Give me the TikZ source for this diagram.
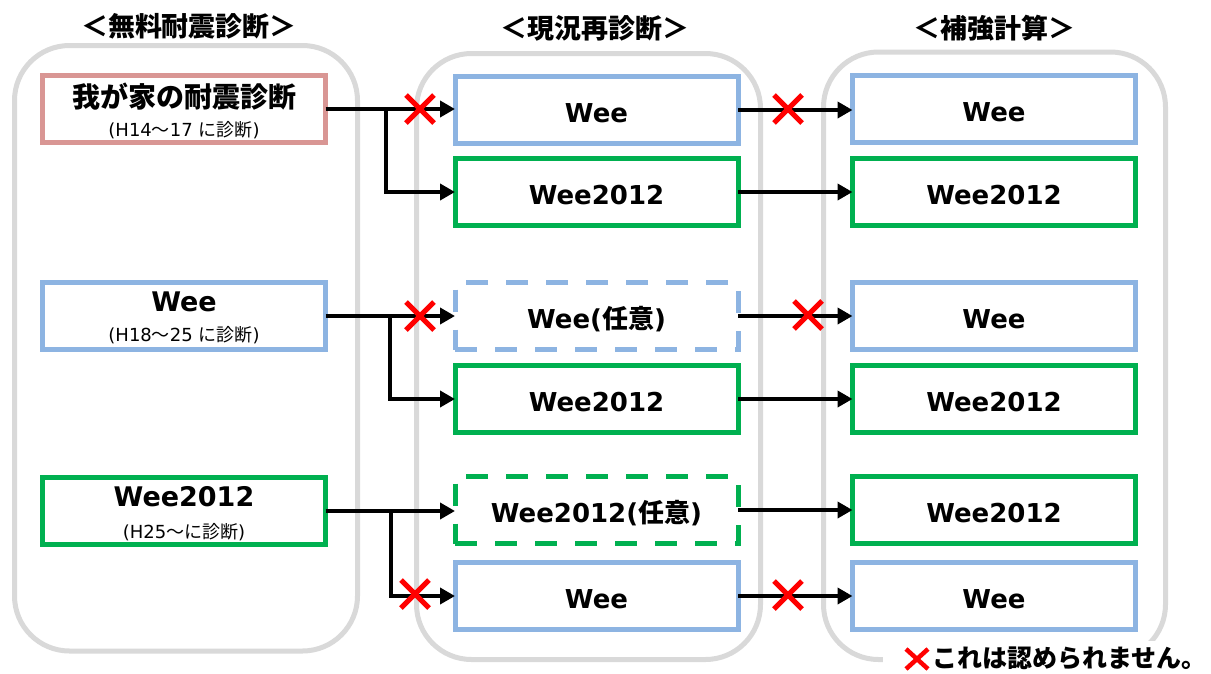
\documentclass[tikz,border=0pt]{standalone}
\usepackage{fontspec}
\setmainfont{DejaVu Sans}
\newfontfamily\jp{Noto Sans CJK JP}
\usetikzlibrary{arrows.meta}
\definecolor{panelgray}{HTML}{D9D9D9}
\definecolor{pinkc}{HTML}{D99694}
\definecolor{bluec}{HTML}{8DB4E2}
\definecolor{greenc}{HTML}{00B050}
\begin{document}
\begin{tikzpicture}[x=1pt,y=-1pt,
 panel/.style={draw=panelgray, line width=5pt, rounded corners=55pt},
 box/.style={draw, line width=5pt, minimum width=283pt, minimum height=67pt, inner sep=0pt, outer sep=0pt, fill=white, text height=25pt, text depth=0pt, font=\bfseries\fontsize{26}{30}\selectfont},
 dbox/.style={box, dash pattern=on 22pt off 18pt},
 arr/.style={line width=4pt, -{Triangle[length=15pt,width=16pt]}},
 nox/.style={draw=red, line width=5pt},
 hdr/.style={font=\jp\bfseries\fontsize{27}{30}\selectfont},
 maintxt/.style={font=\bfseries\fontsize{27}{32}\selectfont, inner sep=0pt},
 subtxt/.style={font=\fontsize{18}{22}\selectfont, inner sep=0pt}
]
\useasboundingbox (0,0) rectangle (1211,673);
\fill[white] (0,0) rectangle (1211,673);

% panels
\draw[panel] (14.5,45.5) rectangle (357.5,651);
\draw[panel] (416.5,53.5) rectangle (760.5,659.5);
\draw[panel] (823.5,52) rectangle (1165.5,659.5);

% headers
\node[hdr] (h1) at (189,26) {＜無料耐震診断＞};
\node[hdr] (h2) at (595,28) {＜現況再診断＞};
\node[hdr] (h3) at (994,28) {＜補強計算＞};

% left boxes
\node[box, draw=pinkc] (l1) at (184,109) {};
\node[maintxt, font=\jp\bfseries\fontsize{28}{32}\selectfont] (l1a) at (184,97) {我が家の耐震診断};
\node[subtxt] (l1b) at (184,130) {(H14{\jp ～}17 {\jp に診断})};

\node[box, draw=bluec] (l2) at (184,316) {};
\node[maintxt] (l2a) at (184,302) {Wee};
\node[subtxt] (l2b) at (184,335) {(H18{\jp ～}25 {\jp に診断})};

\node[box, draw=greenc] (l3) at (184,511) {};
\node[maintxt] (l3a) at (184,497) {Wee2012};
\node[subtxt] (l3b) at (184,532) {(H25{\jp ～に診断})};

% middle boxes
\node[box, draw=bluec] (m1) at (596.5,110) {Wee};
\node[box, draw=greenc] (m2) at (596.5,192) {Wee2012};
\node[dbox, draw=bluec] (m3) at (596.5,316) {Wee({\jp 任意})};
\node[box, draw=greenc] (m4) at (596.5,399) {Wee2012};
\node[dbox, draw=greenc] (m5) at (596.5,510) {Wee2012({\jp 任意})};
\node[box, draw=bluec] (m6) at (596.5,596) {Wee};

% right boxes
\node[box, draw=bluec] (r1) at (994,109) {Wee};
\node[box, draw=greenc] (r2) at (994,192) {Wee2012};
\node[box, draw=bluec] (r3) at (994,316) {Wee};
\node[box, draw=greenc] (r4) at (994,399) {Wee2012};
\node[box, draw=greenc] (r5) at (994,510) {Wee2012};
\node[box, draw=bluec] (r6) at (994,596) {Wee};

% branch points
\coordinate (b1) at (386,109);
\coordinate (b2) at (390,316);
\coordinate (b3) at (391,511);

% arrows
\draw[arr] (l1.east) -- (l1.east -| m1.west);
\draw[arr] (b1) |- (m2.west);
\draw[arr] (l2.east) -- (m3.west);
\draw[arr] (b2) |- (m4.west);
\draw[arr] (l3.east) -- (l3.east -| m5.west);
\draw[arr] (b3) |- (m6.west);

\draw[arr] (m1.east) -- (m1.east -| r1.west);
\draw[arr] (m2.east) -- (r2.west);
\draw[arr] (m3.east) -- (r3.west);
\draw[arr] (m4.east) -- (r4.west);
\draw[arr] (m5.east) -- (r5.west);
\draw[arr] (m6.east) -- (r6.west);

% crosses
\draw[nox, shift={(420,109)}] (-14,-14) -- (14,14) (-14,14) -- (14,-14);
\draw[nox, shift={(788,109)}] (-14,-14) -- (14,14) (-14,14) -- (14,-14);
\draw[nox, shift={(420,316)}] (-14,-14) -- (14,14) (-14,14) -- (14,-14);
\draw[nox, shift={(808,315)}] (-14,-14) -- (14,14) (-14,14) -- (14,-14);
\draw[nox, shift={(415,594)}] (-14,-14) -- (14,14) (-14,14) -- (14,-14);
\draw[nox, shift={(788,595)}] (-14,-14) -- (14,14) (-14,14) -- (14,-14);

% legend
\fill[white] (883,641) rectangle (1211,673);
\draw[nox, line width=4.5pt, shift={(917,659)}] (-11,-10) -- (11,10) (-11,10) -- (11,-10);
\node[anchor=west, inner sep=0pt, font=\jp\bfseries\fontsize{25}{30}\selectfont] (lg) at (932,658) {これは認められません。};
\end{tikzpicture}
\end{document}
